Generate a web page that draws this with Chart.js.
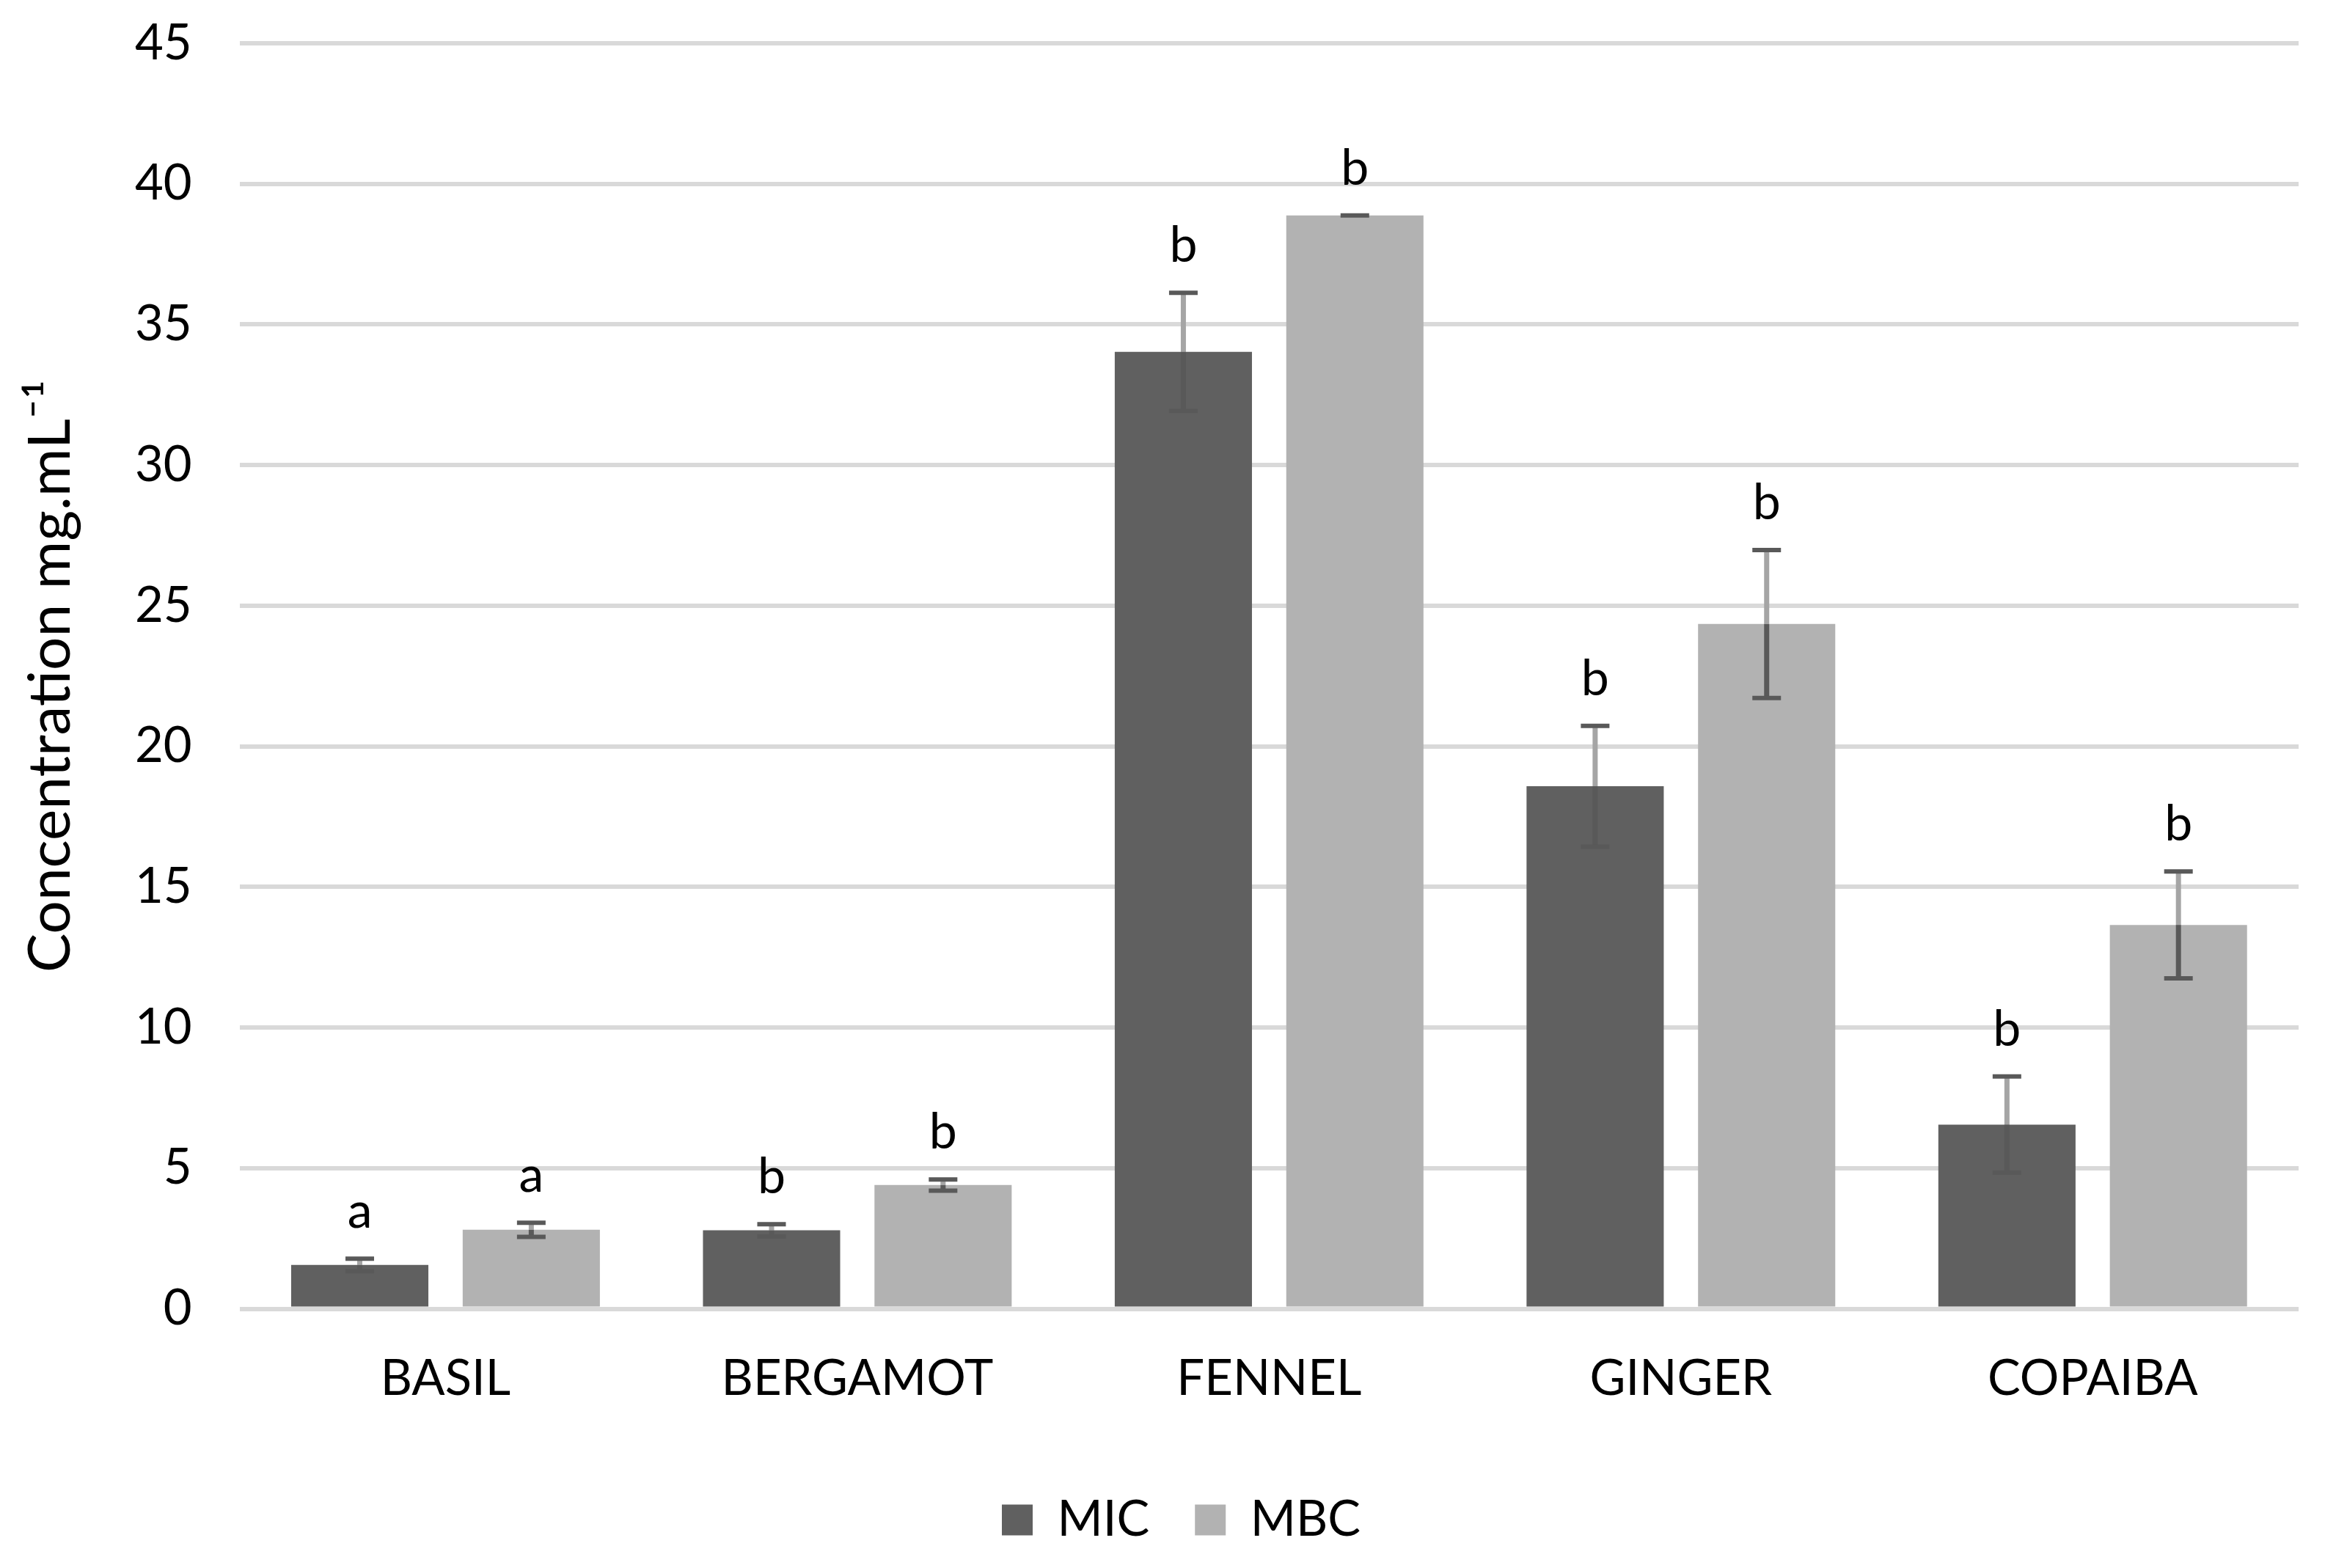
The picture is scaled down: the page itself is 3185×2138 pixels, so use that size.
<!DOCTYPE html>
<html>
<head>
<meta charset="utf-8">
<script src="https://cdn.jsdelivr.net/npm/chart.js@4/dist/chart.umd.min.js"></script>
<style>
  html, body { margin: 0; padding: 0; background: #fff; }
  canvas { display: block; }
</style>
</head>
<body>
<canvas id="oilChart" width="3185" height="2138"></canvas>
<script>
const oils = ['BASIL', 'BERGAMOT', 'FENNEL', 'GINGER', 'COPAIBA'];
const micValues = [1.56, 2.79, 34.03, 18.58, 6.55];
const micErrors = [0.22, 0.22, 2.1, 2.15, 1.71];
const micLetters = ['a', 'b', 'b', 'b', 'b'];
const mbcValues = [2.81, 4.40, 38.88, 24.35, 13.65];
const mbcErrors = [0.25, 0.2, 0, 2.63, 1.9];
const mbcLetters = ['a', 'b', 'b', 'b', 'b'];
const yTicks = [0, 5, 10, 15, 20, 25, 30, 35, 40, 45];

const FONT = 'Lato';

// error bars + significance letters, drawn on top of the bars
const errorBars = {
    id: 'errorBars',
    afterLayout(chart) {
        // nudge legend a little to the right, like the original
        chart.legend.left += 70;
    },
    afterDatasetsDraw(chart) {
        const ctx = chart.ctx;
        const y = chart.scales.y;
        chart.data.datasets.forEach((ds, di) => {
            const meta = chart.getDatasetMeta(di);
            meta.data.forEach((bar, i) => {
                const v = ds.data[i];
                const e = ds.errors[i];
                const top = y.getPixelForValue(v + e);
                const bot = y.getPixelForValue(v - e);
                const x = bar.x;
                ctx.save();
                ctx.lineCap = 'butt';
                // upper stem
                ctx.strokeStyle = '#a5a5a5';
                ctx.lineWidth = 7;
                ctx.beginPath();
                ctx.moveTo(x, top);
                ctx.lineTo(x, bar.y);
                ctx.stroke();
                // lower stem
                ctx.strokeStyle = '#595959';
                ctx.beginPath();
                ctx.moveTo(x, bar.y);
                ctx.lineTo(x, bot);
                ctx.stroke();
                // caps
                ctx.lineWidth = 6;
                ctx.beginPath();
                ctx.moveTo(x - 19.5, top);
                ctx.lineTo(x + 19.5, top);
                if (e > 0) {
                    ctx.moveTo(x - 19.5, bot);
                    ctx.lineTo(x + 19.5, bot);
                }
                ctx.stroke();
                // letter
                ctx.fillStyle = '#000';
                ctx.font = '68px ' + FONT;
                ctx.textAlign = 'center';
                ctx.textBaseline = 'alphabetic';
                ctx.fillText(ds.letters[i], x, top - 42);
                ctx.restore();
            });
        });
    }
};

const data = {
    labels: oils,
    datasets: [{
        label: 'MIC',
        data: micValues,
        errors: micErrors,
        letters: micLetters,
        backgroundColor: '#606060',
        categoryPercentage: 0.833,
        barPercentage: 0.8,
    }, {
        label: 'MBC',
        data: mbcValues,
        errors: mbcErrors,
        letters: mbcLetters,
        backgroundColor: '#b2b2b2',
        categoryPercentage: 0.833,
        barPercentage: 0.8,
    }]
};

const config = {
    type: 'bar',
    data: data,
    plugins: [errorBars],
    options: {
        responsive: false,
        devicePixelRatio: 1,
        animation: false,
        layout: {
            padding: { top: 59, right: 51, left: 17, bottom: 22 }
        },
        plugins: {
            legend: {
                position: 'bottom',
                labels: {
                    boxWidth: 42,
                    boxHeight: 42,
                    padding: 62,
                    color: '#000',
                    font: { family: FONT, size: 67 }
                }
            },
            tooltip: { enabled: false }
        },
        scales: {
            x: {
                grid: { display: false, drawTicks: false },
                border: { display: false },
                ticks: {
                    color: '#000',
                    padding: 56,
                    font: { family: FONT, size: 67 }
                }
            },
            y: {
                min: 0,
                max: 45,
                afterBuildTicks: (scale) => {
                    scale.ticks = yTicks.map(v => ({ value: v }));
                },
                grid: {
                    color: '#d9d9d9',
                    lineWidth: 6,
                    drawTicks: true,
                    tickLength: 65,
                    tickColor: 'rgba(0,0,0,0)'
                },
                border: { display: false },
                ticks: {
                    color: '#000',
                    padding: 0,
                    font: { family: FONT, size: 67 }
                },
                title: {
                    display: true,
                    text: 'Concentration mg.mL⁻¹',
                    color: '#000',
                    padding: { top: 4, bottom: 67 },
                    font: { family: FONT, size: 80 }
                }
            }
        }
    }
};

const oilChart = new Chart(document.getElementById('oilChart'), config);
</script>
</body>
</html>
